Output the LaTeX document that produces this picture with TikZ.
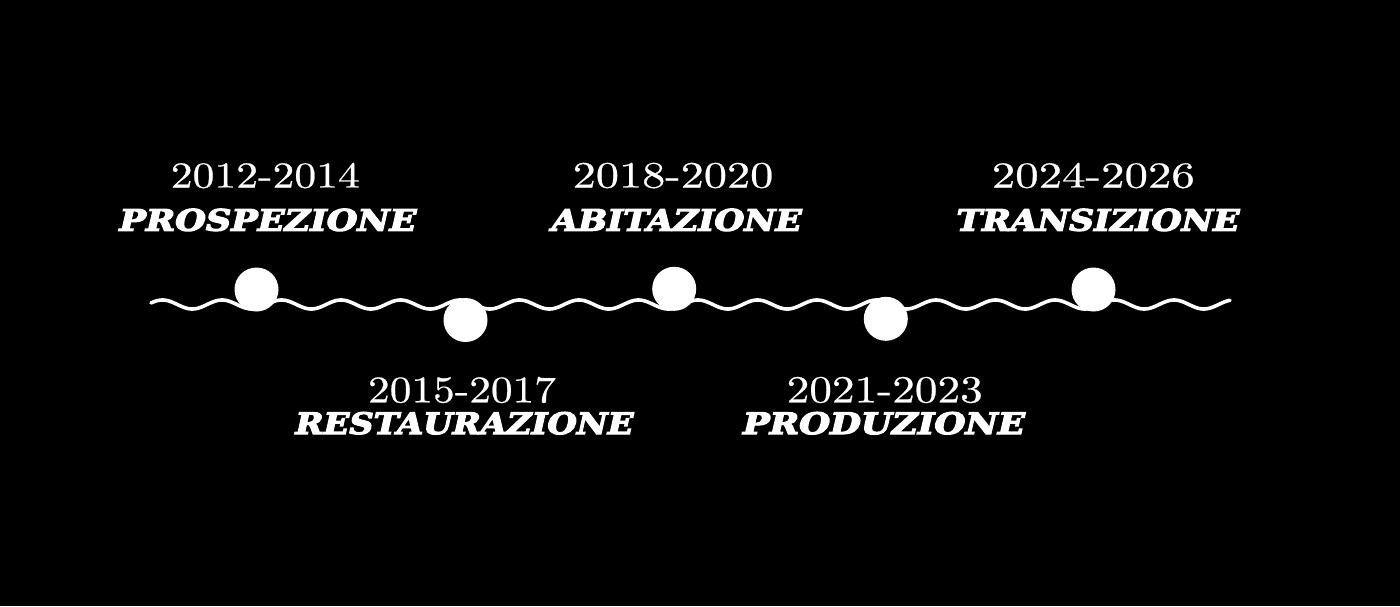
\documentclass[tikz,border=0pt]{standalone}
\usepackage{fontspec}
\newfontfamily\namefont{DejaVu Serif}[BoldItalicFeatures={FakeBold=4}]
\newfontfamily\yearfont{Latin Modern Roman}[FakeBold=0.5]
\newcommand\fitname[2]{\sbox0{\fontsize{29.6pt}{30pt}\selectfont\namefont\bfseries\itshape #2}\pgfmathsetmacro\namesx{#1/\the\wd0}\scalebox{\namesx}[1]{\usebox0}}
\begin{document}
\begin{tikzpicture}[x=1pt,y=-1pt,
  wave/.style={white,line width=3.6pt,line cap=round},
  dot/.style={circle,fill=white,minimum size=44pt,inner sep=0pt},
  yearlbl/.style={white,anchor=base,inner sep=0pt},
  namelbl/.style={white,anchor=base,inner sep=0pt}]
\fill[black] (0,0) rectangle (1400,606);
\useasboundingbox (0,0) rectangle (1400,606);
\draw[wave] plot[domain=151:1230,samples=600,smooth] (\x,{304.5-4.5*cos(((\x-698)/59.5)*360)});
\node[dot] (c1) at (256.5,289.5) {};
\node[dot] (c2) at (465.5,320) {};
\node[dot] (c3) at (674.2,288.8) {};
\node[dot] (c4) at (885.8,318.8) {};
\node[dot] (c5) at (1093.5,289.5) {};
% upper labels
\node[yearlbl] (y1) at (265.3,187.5) {\resizebox{189pt}{24.7pt}{\yearfont 2012-2014}};
\node[namelbl] (n1) at (268,230.7) {\fitname{297}{PROSPEZIONE}};
\node[yearlbl] (y3) at (673,187.5) {\resizebox{200.6pt}{24.7pt}{\yearfont 2018-2020}};
\node[namelbl] (n3) at (676.7,230.7) {\fitname{250}{ABITAZIONE}};
\node[yearlbl] (y5) at (1093.3,187.5) {\resizebox{203pt}{24.7pt}{\yearfont 2024-2026}};
\node[namelbl] (n5) at (1098,230.7) {\fitname{283}{TRANSIZIONE}};
% lower labels
\node[yearlbl] (y2) at (462,402.3) {\resizebox{188pt}{25.4pt}{\yearfont 2015-2017}};
\node[namelbl] (n2) at (464.5,434) {\fitname{338}{RESTAURAZIONE}};
\node[yearlbl] (y4) at (884.7,402.3) {\resizebox{196pt}{25.4pt}{\yearfont 2021-2023}};
\node[namelbl] (n4) at (884,434) {\fitname{282}{PRODUZIONE}};
\end{tikzpicture}
\end{document}
